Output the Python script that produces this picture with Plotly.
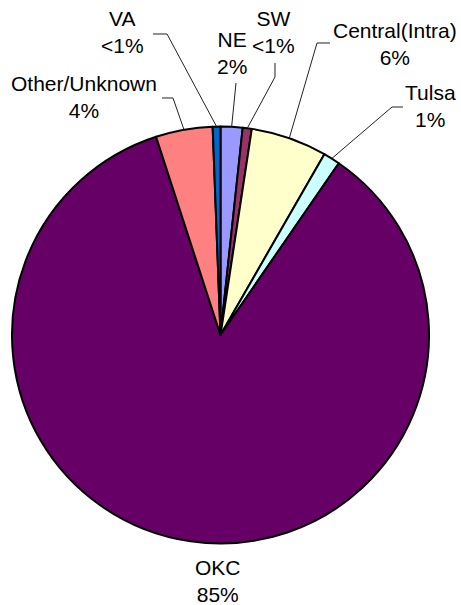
import math
import plotly.graph_objects as go

# slices, clockwise from 12 o'clock
regions = ['NE', 'SW', 'Central(Intra)', 'Tulsa', 'OKC', 'Other/Unknown', 'VA']
shares = [1.7, 0.7, 5.9, 1.3, 85.4, 4.4, 0.6]
share_text = ['2%', '<1%', '6%', '1%', '85%', '4%', '<1%']
colors = ['#9999FF', '#993366', '#FFFFCC', '#CCFFFF', '#660066', '#FF8080', '#0066CC']

W, H = 461, 605
cx, cy, r = 220.5, 335, 208.5

# label centre and leader elbow (pixels), None = no leader
label_pos = [(232, 53), (273, 32), (395, 44), (430, 106), (218, 581), (84, 97), (123, 32)]
elbows = [[(236, 83)], [(275, 63), (275, 77)], [(330, 43), (317, 43)], [(403, 107), (392, 107)],
          None, [(162, 98), (173, 98)], [(153, 34), (167, 34)]]

def px(x, y):
    return x / W, 1 - y / H

fig = go.Figure()
fig.add_trace(go.Pie(labels=regions, values=shares, sort=False, direction='clockwise',
                     marker=dict(colors=colors, line=dict(color='black', width=2)),
                     textinfo='none', hoverinfo='label+percent', showlegend=False,
                     domain=dict(x=[(cx - r) / W, (cx + r) / W], y=[1 - (cy + r) / H, 1 - (cy - r) / H])))

total = sum(shares)
cum = 0
for i, v in enumerate(shares):
    mid = (cum + v / 2) / total * 2 * math.pi
    cum += v
    ex, ey = cx + r * math.sin(mid), cy - r * math.cos(mid)
    if elbows[i]:
        pts = elbows[i] + [(ex, ey)]
        path = 'M ' + ' L '.join('%f,%f' % px(x, y) for x, y in pts)
        fig.add_shape(type='path', path=path, xref='paper', yref='paper',
                      line=dict(color='#222222', width=1))
    lx, ly = px(*label_pos[i])
    fig.add_annotation(x=lx, y=ly, xref='paper', yref='paper', showarrow=False,
                       text=regions[i] + '<br>' + share_text[i], align='center',
                       xanchor='center', yanchor='middle',
                       font=dict(family='Liberation Sans, Arial', size=21, color='black'))

fig.update_layout(width=W, height=H, margin=dict(l=0, r=0, t=0, b=0),
                  paper_bgcolor='white', plot_bgcolor='white')
fig.write_html("out.html", config={'displayModeBar': False},
               post_script="document.body.style.margin='0';")
